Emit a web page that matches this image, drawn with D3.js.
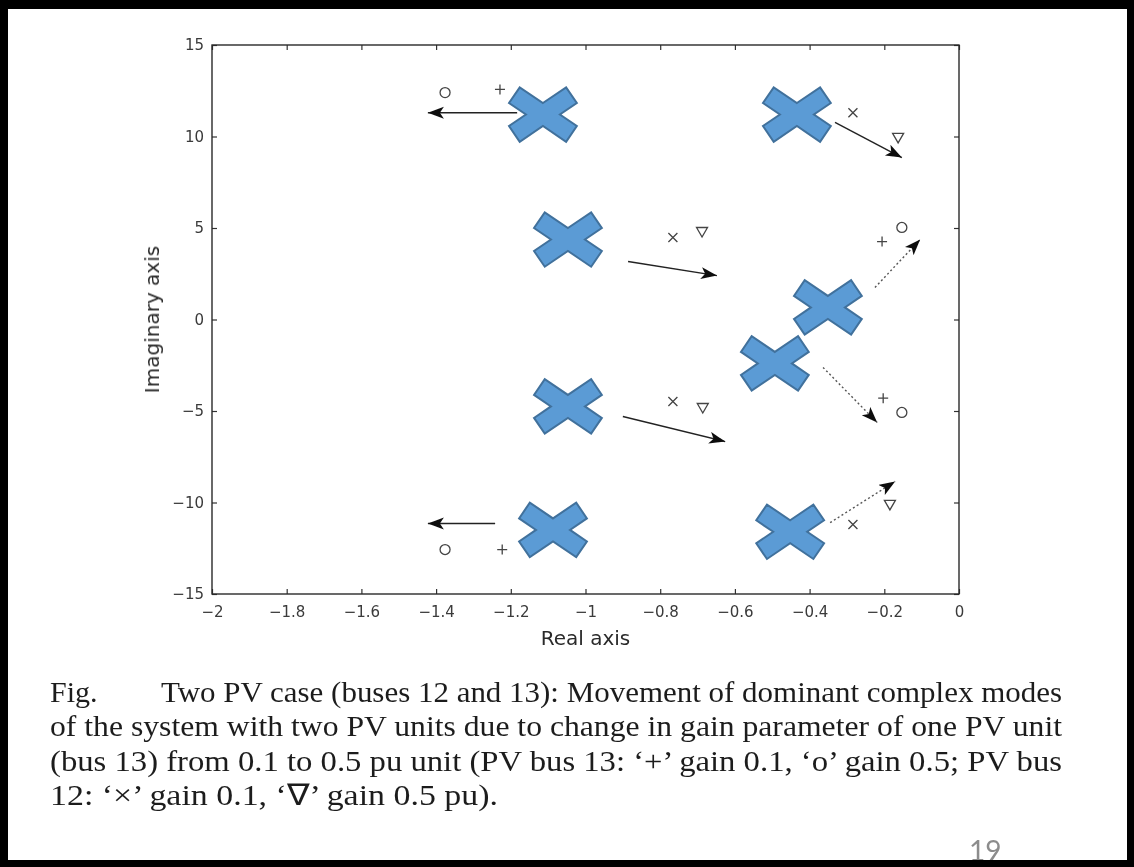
<!DOCTYPE html>
<html>
<head>
  <meta charset="utf-8">
  <script src="https://d3js.org/d3.v7.min.js"></script>
  <style type="text/css">
    body { margin: 0; background: #fff; }
    svg { display: block; }
    .tick text { font-family: "DejaVu Sans", sans-serif; font-size: 15px; fill: #3a3a3a; }
    .tick line { stroke: #333; stroke-width: 1.2; }
    .caption { font-family: "Liberation Serif", "Times New Roman", serif; font-size: 30px; fill: #1e1e1e; }
  </style>
</head>
<body>
  <script type="text/javascript">
    "use strict";

    // axis ticks
    var xTicks = [-2, -1.8, -1.6, -1.4, -1.2, -1, -0.8, -0.6, -0.4, -0.2, 0];
    var yTicks = [-15, -10, -5, 0, 5, 10, 15];

    // big blue crosses (overlay on the slide), in axis units
    var crossRe = [-1.114, -0.434, -1.047, -0.351, -0.493, -1.047, -1.087, -0.452];
    var crossIm = [11.2, 11.2, 4.37, 0.66, -2.4, -4.75, -11.5, -11.6];

    // mode movement arrows
    var arrowFromRe = [-1.183, -0.332, -0.886, -0.225, -0.364, -0.900, -0.345, -1.242];
    var arrowFromIm = [11.3, 10.77, 3.17, 1.75, -2.62, -5.30, -11.1, -11.15];
    var arrowToRe   = [-1.422, -0.153, -0.648, -0.104, -0.219, -0.626, -0.171, -1.422];
    var arrowToIm   = [11.3, 8.85, 2.40, 4.37, -5.63, -6.67, -8.85, -11.15];
    var arrowDotted = [false, false, false, true, true, false, true, false];

    // small markers: plus / circle (bus 13), cross / triangle (bus 12)
    var markRe   = [-1.229, -1.376, -0.284, -0.163, -0.766, -0.688, -0.206, -0.153,
                    -0.203, -0.153, -0.766, -0.686, -0.284, -0.185, -1.223, -1.376];
    var markIm   = [12.57, 12.4, 11.3, 9.95, 4.48, 4.81, 4.26, 5.03,
                    -4.3, -5.08, -4.48, -4.81, -11.2, -10.1, -12.57, -12.57];
    var markType = ["plus", "circle", "cross", "tri", "cross", "tri", "plus", "circle",
                    "plus", "circle", "cross", "tri", "cross", "tri", "plus", "circle"];

    var captionLines = [
      "of the system with two PV units due to change in gain parameter of one PV unit",
      "(bus 13) from 0.1 to 0.5 pu unit (PV bus 13: \u2018+\u2019 gain 0.1, \u2018o\u2019 gain 0.5; PV bus",
      "12: \u2018\u00d7\u2019 gain 0.1, \u2018\u2207\u2019 gain 0.5 pu)."
    ];

    var W = 1134, H = 867;
    var svg = d3.select("body").append("svg")
        .attr("width", W)
        .attr("height", H);

    svg.append("rect").attr("width", W).attr("height", H).attr("fill", "#fff");

    var defs = svg.append("defs");
    defs.append("filter").attr("id", "scan")
      .append("feGaussianBlur").attr("stdDeviation", 0.6);
    defs.append("marker")
        .attr("id", "head")
        .attr("markerUnits", "userSpaceOnUse")
        .attr("markerWidth", 18).attr("markerHeight", 14)
        .attr("refX", 16).attr("refY", 6)
        .attr("orient", "auto")
      .append("path")
        .attr("d", "M0,0 L16,6 L0,12 L4,6 Z")
        .attr("fill", "#111");

    var x = d3.scaleLinear().domain([-2, 0]).range([212, 959]);
    var y = d3.scaleLinear().domain([-15, 15]).range([594, 45]);

    var fmt = function (d) { return String(Math.round(d * 10) / 10).replace("-", "\u2212"); };

    var chart = svg.append("g").attr("filter", "url(#scan)");

    chart.append("g")
        .attr("transform", "translate(0,594)")
        .call(d3.axisBottom(x).tickValues(xTicks).tickFormat(fmt)
          .tickSizeInner(-5).tickSizeOuter(0).tickPadding(12))
        .call(function (g) { g.select(".domain").remove(); });
    chart.append("g")
        .attr("transform", "translate(0,45)")
        .call(d3.axisTop(x).tickValues(xTicks).tickFormat("")
          .tickSizeInner(-5).tickSizeOuter(0))
        .call(function (g) { g.select(".domain").remove(); });
    chart.append("g")
        .attr("transform", "translate(212,0)")
        .call(d3.axisLeft(y).tickValues(yTicks).tickFormat(fmt)
          .tickSizeInner(-5).tickSizeOuter(0).tickPadding(8))
        .call(function (g) { g.select(".domain").remove(); });
    chart.append("g")
        .attr("transform", "translate(959,0)")
        .call(d3.axisRight(y).tickValues(yTicks).tickFormat("")
          .tickSizeInner(-5).tickSizeOuter(0))
        .call(function (g) { g.select(".domain").remove(); });

    chart.append("rect")
        .attr("x", x(-2)).attr("y", y(15))
        .attr("width", x(0) - x(-2)).attr("height", y(-15) - y(15))
        .attr("fill", "none").attr("stroke", "#2a2a2a").attr("stroke-width", 1.4);

    chart.append("text")
        .attr("x", (x(-2) + x(0)) / 2).attr("y", 645)
        .attr("text-anchor", "middle")
        .style("font-family", "DejaVu Sans, sans-serif").style("font-size", "20px")
        .attr("fill", "#2a2a2a")
        .text("Real axis");
    chart.append("text")
        .attr("transform", "translate(159," + y(0) + ") rotate(-90)")
        .attr("text-anchor", "middle")
        .style("font-family", "DejaVu Sans, sans-serif").style("font-size", "20px")
        .attr("fill", "#2a2a2a")
        .text("Imaginary axis");

    // arrows
    chart.selectAll("line.arrow")
        .data(arrowFromRe)
      .enter().append("line")
        .attr("class", "arrow")
        .attr("x1", function (d, i) { return x(arrowFromRe[i]); })
        .attr("y1", function (d, i) { return y(arrowFromIm[i]); })
        .attr("x2", function (d, i) { return x(arrowToRe[i]); })
        .attr("y2", function (d, i) { return y(arrowToIm[i]); })
        .attr("stroke", function (d, i) { return arrowDotted[i] ? "#555" : "#222"; })
        .attr("stroke-width", 1.4)
        .attr("stroke-dasharray", function (d, i) { return arrowDotted[i] ? "2,2.5" : null; })
        .attr("marker-end", "url(#head)");

    // small markers
    var glyph = {
      plus: "M-5,0H5M0,-5V5",
      cross: "M-4.5,-4.5L4.5,4.5M-4.5,4.5L4.5,-4.5",
      circle: "M5,0A5,5 0 1,1 -5,0A5,5 0 1,1 5,0",
      tri: "M-5.5,-4H5.5L0,5.5Z"
    };
    chart.selectAll("path.mark")
        .data(markType)
      .enter().append("path")
        .attr("class", "mark")
        .attr("transform", function (d, i) { return "translate(" + x(markRe[i]) + "," + y(markIm[i]) + ")"; })
        .attr("d", function (d) { return glyph[d]; })
        .attr("fill", "none")
        .attr("stroke", "#444")
        .attr("stroke-width", 1.3);

    // caption
    var cap = svg.append("g")
        .attr("class", "caption")
        .attr("filter", "url(#scan)");
    cap.append("text").attr("x", 50).attr("y", 702).text("Fig.");
    cap.append("text").attr("x", 161).attr("y", 702)
        .attr("textLength", 901).attr("lengthAdjust", "spacingAndGlyphs")
        .text("Two PV case (buses 12 and 13): Movement of dominant complex modes");
    var capLen = [1012, 1012, 448];
    cap.selectAll("text.line")
        .data(captionLines)
      .enter().append("text")
        .attr("class", "line")
        .attr("x", 50)
        .attr("y", function (d, i) { return 736 + i * 34.7; })
        .attr("textLength", function (d, i) { return capLen[i]; })
        .attr("lengthAdjust", "spacingAndGlyphs")
        .text(function (d) { return d; });

    // blue overlay crosses
    function crossPath(hw, hh, t, k) {
      var len = Math.sqrt(hw * hw + hh * hh);
      var ux = hw / len, uy = hh / len;
      var ox = uy * t / 2, oy = ux * t / 2;
      var nTop = (t / 2) / ux, nSide = (t / 2) / uy;
      var ex = hw * k, ey = hh * k;
      var pts = [
        [0, -nTop],
        [ex - ox, -ey - oy], [ex + ox, -ey + oy],
        [nSide, 0],
        [ex + ox, ey - oy], [ex - ox, ey + oy],
        [0, nTop],
        [-ex + ox, ey + oy], [-ex - ox, ey - oy],
        [-nSide, 0],
        [-ex - ox, -ey + oy], [-ex + ox, -ey - oy]
      ];
      return "M" + pts.map(function (p) { return p[0].toFixed(1) + "," + p[1].toFixed(1); }).join("L") + "Z";
    }
    var xShape = crossPath(34, 23, 19, 0.84);
    svg.selectAll("path.bigx")
        .data(crossRe)
      .enter().append("path")
        .attr("class", "bigx")
        .attr("transform", function (d, i) { return "translate(" + x(crossRe[i]) + "," + y(crossIm[i]) + ")"; })
        .attr("d", xShape)
        .attr("fill", "#5b9bd5")
        .attr("stroke", "#41719c")
        .attr("stroke-width", 2)
        .attr("stroke-linejoin", "miter");

    // page number
    svg.append("text")
        .attr("x", 969).attr("y", 861)
        .style("font-family", "Lato, Open Sans, sans-serif").style("font-size", "28px")
        .attr("fill", "#8c8c8c")
        .text("19");

    // slide frame
    svg.append("path")
        .attr("d", "M0,0H" + W + "V" + H + "H0Z M8,9V860H1127V9Z")
        .attr("fill", "#000")
        .attr("fill-rule", "evenodd");
  </script>
</body>
</html>
